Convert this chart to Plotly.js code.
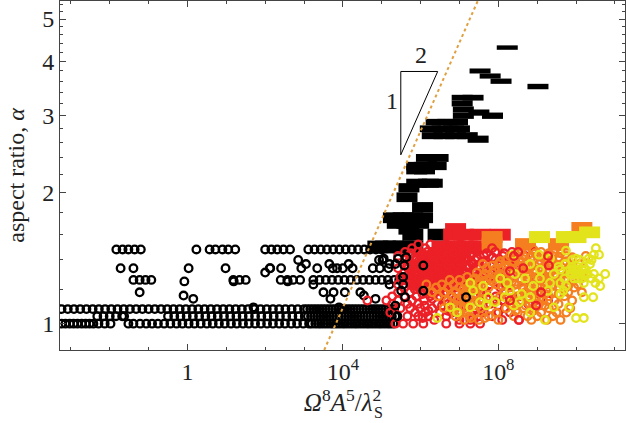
<!DOCTYPE html>
<html><head><meta charset="utf-8">
<script src="https://cdn.plot.ly/plotly-3.0.1.min.js"></script>
<style>html,body{margin:0;padding:0;background:#fff}</style></head>
<body><div id="c" style="width:626px;height:423px"></div>
<script>
// x values are stored as log10(Omega^8 A^5 / lambda_S^2)
const blackCircleAlpha=[1,1.04,1.08,1.48];
const blackCircleLogX=[
[-3.24,-3.14,-3.03,-2.93,-2.83,-2.72,-2.62,-2.52,-2.42,-2.29,-2.13,-1.98,-1.52,-1.39,-1.22,-1.06,-.91,-.76,-.6,-.44,-.28,-.13,.03,.18,.34,.5,.65,.81,.96,1.12,1.27,1.43,1.58,1.74,1.89,2.05,2.2,2.36,2.51,2.67,2.82,2.98,3.13,3.29,3.44,3.6,3.75,3.91,4.06,4.22,4.37,4.53,4.68,4.84,4.99,5.15,5.3],
[-2.32,-2.16,-2,-1.84,-1.68,-.5,-.34,-.18,-.02,.14,.3,.46,.62,.78,.94,1.1,1.26,1.42,1.58,1.74,1.9,2.06,2.22,2.38,2.54,2.7,2.86,3.02,3.18,3.34,3.5,3.66,3.82,3.98,4.14,4.3,4.46,4.62,4.78,4.94,5.1,5.26],
[-3.24,-3.08,-2.92,-2.76,-2.6,-2.44,-2.28,-2.12,-1.96,-1.8,-1.64,-1.48,-1.32,-1.16,-1,-.84,-.68,-.52,-.36,-.2,-.04,.12,.28,.44,.6,.76,.92,1.08,1.24,1.4,1.56,1.72,1.88,2.04,2.2,2.36,2.52,2.68,2.84,3,3.16,3.32,3.48,3.64,3.8,3.96,4.12,4.28,4.44,4.6,4.76,4.92,5.08,5.24],
[-1.83,-1.67,-1.52,-1.36,-1.2,.23,.57,.72,.9,1.05,1.23,2,2.16,2.31,2.47,2.64,3.11,3.27,3.43,3.59,3.75,3.91,4.07,4.23,4.39,4.55,4.7,4.85,5]
];
const blackDenseAlpha=[1,1.04,1.08];
const blackDenseLogX=[
[3.2,3.37,3.52,3.68,3.83,3.99,4.14,4.3,4.45,4.61,4.76,4.92,5.07,5.22],
[3.1,3.26,3.42,3.58,3.74,3.9,4.06,4.22,4.38,4.54,4.7,4.86,5.02,5.18],
[3.08,3.24,3.4,3.56,3.72,3.88,4.04,4.2,4.36,4.52,4.68,4.84,5,5.16,5.32]
];
const blackRow2Alpha=[1.26,1.34];
const blackRow2LogX=[
[-1.39,-1.23,-1.08,-.93,1.18,1.34,1.5,2.4,2.57,2.72,2.9,3.24,3.4,3.56,3.72,3.88,4.04,4.2,4.36,4.52,4.68,4.84,5,5.16,5.32,5.45],
[-1.72,-1.39,.03,.98,2.12,2.13,2.41,2.93,3.34,3.74,3.85,4.0,4.25,4.77,4.95,5.17]
];
const blackScatterAlpha=[1.04,1.09,1.14,1.16,1.18,1.23,1.25,1.31,1.37,1.4,1.41,1.37];
const blackScatterLogX=[
[-1.63,5.35,5.4],[1.7,3.9],[.15,3.68,4.84],[-.1,4.54],[-1.23,3.5,3.76,4.05,4.45],[3.24,5.2],[-.08,1.19,2.58],[2.0],[3.05,3.65],[2.85,4.93,5.02],[5.05],[4.15,5.2]
];
const redAlpha=[1,1.02,1.04,1.06,1.085,1.11,1.13,1.155,1.18,1.21,1.23,1.26,1.28,1.31,1.34,1.37,1.4,1.43,1.46,1.49,1.52];
const redLogX=[
[5.35,5.55,5.81,6.07,6.66,7,7.28,7.53],
[6.35,7,7.28,8.1,8.53],
[5.66,5.94,6.2,6.66,7.48,7.84],
[5.22,5.86,6.12,6.5,6.81,7.17,7.63,8,8.3],
[5.48,5.73,5.99,6.3,6.89,7.4,8.17],
[5.27,5.66,5.94,6.43,6.71,7.28,7.79,8.35,8.77],
[4.63,5.12,5.42,5.78,6.09,6.63,7.02,7.58,8.1,8.95,9.28],
[5.27,5.58,5.89,6.25,6.5,6.81,7.38,7.94,8.56],
[5.42,5.73,6.12,6.38,6.68,7.15,7.69,8.3,9.07],
[5.58,5.94,6.25,6.56,6.89,7.48,8.05,8.64],
[5.42,5.78,6.09,6.4,6.71,7.22,7.79,8.43],
[5.63,5.89,6.14,6.4,6.66,6.92,7.28,7.64,8.1,8.77],
[5.48,5.78,6.04,6.3,6.56,6.81,7.07,7.48,7.89,8.33,9.07],
[5.58,5.84,6.09,6.35,6.61,6.86,7.12,7.38,7.79,8.2],
[5.42,5.68,5.94,6.2,6.45,6.71,6.97,7.22,7.53,7.97,8.56],
[5.78,6.04,6.3,6.56,6.81,7.07,7.33,7.69,8.25,8.82],
[5.6,5.86,6.12,6.38,6.63,6.89,7.15,7.4,7.92,8.43,9.2],
[5.42,5.73,5.99,6.25,6.5,6.76,7.02,7.28,7.63,8.12,8.69],
[5.6,5.91,6.17,6.43,6.68,6.94,7.2,7.45,7.92,8.35,8.95],
[5.78,6.12,6.43,6.76,7.09,7.43,7.84],
[5.94,6.25,6.66,7.02]
];
const redMoreAlpha=[1.03,1.07,1.1,1.14,1.17,1.2,1.22,1.25,1.27,1.3,1.33,1.36,1.39,1.42,1.45];
const redMoreLogX=[
[6.05,7.35],
[6.2,6.7,7.55],
[6.1,6.55,7.15,8],
[6.3,6.9,7.7],
[6.05,6.3,6.6,6.95,7.55],
[5.85,6.15,6.45,6.75,7.05,7.35],
[5.9,6.2,6.5,6.8,7.1,7.4,8.2],
[5.75,6,6.3,6.55,6.8,7.05,7.4,7.95],
[5.7,5.95,6.2,6.45,6.7,6.95,7.2,7.55],
[5.7,5.95,6.2,6.45,6.7,6.95,7.25,7.6,8],
[5.8,6.05,6.3,6.55,6.85,7.1,7.35,7.7],
[5.65,5.9,6.15,6.4,6.7,6.95,7.2,7.5,8],
[5.7,5.95,6.25,6.5,6.75,7,7.3,7.6,8.3],
[5.85,6.1,6.35,6.6,6.9,7.15,7.45,7.85,8.4],
[5.75,6.05,6.3,6.55,6.85,7.1,7.35,7.7,8.15]
];
const orangeAlpha=[1.02,1.04,1.06,1.085,1.11,1.13,1.155,1.18,1.21,1.23,1.26,1.28,1.31,1.34,1.37,1.4,1.43,1.46];
const orangeLogX=[
[7.12,7.5,8,8.85,9.25,9.6],
[6.9,7.25,7.75,8.4,8.75,9,9.4],
[7,7.4,7.95,8.5,9.1,9.5,9.75],
[6.6,7.1,7.55,8.2,8.65,8.9,9.3,9.85],
[6.85,7.2,7.3,7.7,8.3,8.8,9.05,9.55],
[6.7,6.95,7.15,7.35,7.9,8.4,8.6,9.15,9.45,9.9],
[6.45,6.8,7.05,7.45,8.05,8.5,8.95,9.3,9.7],
[6.3,6.6,6.9,7.2,7.6,8.15,8.7,9,9.4,9.8,10.15],
[6.4,6.7,7,7.35,7.75,8.3,8.8,9.1,9.55,9.95],
[6.15,6.55,6.85,7.15,7.5,7.95,8.45,8.9,9.25,9.65,10.05],
[6.75,7,7.35,7.7,8.2,8.6,9,9.35,9.75],
[7.2,7.6,8,8.4,8.75,9.15,9.5,9.9,10.2],
[7.45,7.85,8.25,8.6,8.95,9.3,9.65,10],
[7.7,8.1,8.45,8.8,9.1,9.45,9.8],
[7.6,8,8.35,8.7,9.05,9.35,9.7,10.1],
[8.2,8.55,8.9,9.25,9.55,9.9],
[8.3,8.65,9,9.4,9.75,10.25],
[8.7,9.1,9.45]
];
const orangeMoreAlpha=[1.03,1.07,1.1,1.14,1.17,1.2,1.22,1.25,1.27,1.3,1.33,1.36,1.39,1.42,1.45,1.48];
const orangeMoreLogX=[
[7.3,7.65],
[6.85,7.2,8.45,8.9],
[6.95,7.45,8.7,9.2],
[7.25,7.6,8.75,9.05],
[7.1,7.4,8.6,8.85,9.2,9.55],
[7.1,7.5,8.45,8.65,8.95,9.25,9.7],
[7.25,7.6,8.1,8.6,9,9.4,9.8],
[7.5,7.85,8.35,8.75,9.15,9.5,9.9],
[7.4,7.8,8.15,8.55,8.9,9.25,9.6,10.05],
[7.65,8.05,8.4,8.8,9.15,9.45,9.8,10.15],
[7.9,8.3,8.65,8.95,9.25,9.6,9.95],
[7.85,8.2,8.55,8.85,9.2,9.5,9.85],
[8.05,8.4,8.75,9.1,9.4,9.75],
[8.45,8.85,9.2,9.55,9.9],
[8.55,8.95,9.3,9.6],
[8.6,8.9,9.6]
];
const yellowAlpha=[1.02,1.03,1.06,1.09,1.12,1.15,1.19,1.22,1.24,1.27,1.3,1.33,1.37,1.41,1.44,1.47,1.49];
const yellowLogX=[
[9.2],[6.43,10,10.2],[6.94,8.82],[6.76,7.28,9.43,9.82],[7.53,7.92,8.53],[7.74,8.17,8.82,10.2,10.44],
[7.35,8.3,9.28,9.67],[7.61,8.9,9.74,10.62],[7.28,8.23,9.33],[8.05,8.69,9.07,10.05,10.59],
[8.43,9.43,9.85,10.05,10.26,10.46,10.75],[9.07,9.59,9.95,10.15],[8.82,9.72,10.36],[9.33,10,10.33],
[8.38,9.05,10.46,10.59],[9.74],[10.51]
];
const yellowMoreAlpha=[1.1,1.17,1.24,1.27,1.3,1.33,1.35,1.4];
const yellowMoreLogX=[
[7.7,8.4],[8.6,9.6],[9.6,10.2,10.5],
[9.7,9.95,10.15,10.4],[9.9,10,10.1,10.2,10.3],[9.85,10,10.05,10.25],[9.55,9.9,10.2],[9.9,10.1,10.4]
];
const redTopAlpha=[1.46,1.43,1.36,1.32,1.34,1.18,1.13,1.02,1.1];
const redTopLogX=[[8.51],[8.4,9.28],[9.3],[8.3],[8.64],[9.1],[8.3],[8.53],[8.97]];
const blackTopAlpha=[1.41,1.42,1.37,1.36,1.23,1.19,1.28,1.15,1.1,1.04,1.36,1.19,1.15];
const blackTopLogX=[[5.42],[5.63],[5.35],[5.58],[5.55],[5.5],[5.55],[5.6],[5.35],[5.4],[6.07],[6.07],[7.17]];
const blackRectAlpha=[4.3,3.5,3.8,3.7,3.6,3.3,3.2,3.1,3.05,3,2.9,2.8,2.7,2.65,2.4,2.3,2.25,2.1,2.05,1.95,1.85,1.75,1.7,1.65,1.6,1.5];
const blackRectLogX=[[8.23],[9.02],[7.53],[7.79],[8.07],[7.07,7.35],[7.07],[7.1],[7.5],[7.1,7.85],[6.4,6.7,6.95],[6.25,6.55,6.85,7],[6.3,6.6,6.9,7.2],[7.48],[6.15,6.45],[5.9,6.1,6.4],[5.9,6.1],[5.9,6.2,6.3],[5.7],[5.65],[6.05],[5.3,5.55,5.8,6.05],[5.4,5.65,5.95],[5.7],[5.8,6.45],[4.9,5.1,5.3,5.55,5.8]];
const redRectAlpha=[1.65,1.6,1.5,1.42,1.35,1.25];
const redRectLogX=[[6.9],[6.85,7.1,7.53,8.05],[6.55,6.9,7.2,7.5],[6.3,6.6,6.9],[5.95,6.2,6.55,6.85],[5.95,6.2,6.5]];
const orangeRectAlpha=[1.66,1.58,1.52];
const orangeRectLogX=[[10.15],[7.84],[7.84,8.7,9.55]];
const yellowRectAlpha=[1.62,1.58];
const yellowRectLogX=[[10.35],[9.06,9.75,10]];
const guideLogX=[3.52,7.47], guideAlpha=[0.87,5.5];
const triangleLogX=[5.49,6.44,5.49,5.49], triangleAlpha=[3.79,3.79,2.44,3.79];
const xTickExp=[0,4,8], xTickText=['1','10<sup>4</sup>','10<sup>8</sup>'];
const xMinorExp=[-3,-2,-1,1,2,3,5,6,7,9,10,11];
const yTicks=[1,2,3,4,5];
const yMinor=[1.2,1.4,1.6,1.8,2.2,2.4,2.6,2.8,3.2,3.4,3.6,3.8,4.2,4.4,4.6,4.8,5.2,5.4];

const P=e=>Math.pow(10,e);
function flat(as,xs){const x=[],y=[];xs.forEach((r,i)=>r.forEach(v=>{x.push(P(v));y.push(as[i]);}));return{x,y};}
function circles(as,xs,c){const d=flat(as,xs);return{type:'scatter',mode:'markers',x:d.x,y:d.y,hoverinfo:'skip',
 marker:{symbol:'circle-open',size:7.6,color:c,line:{color:c,width:2.3}}};}
function rects(as,xs,c){const d=flat(as,xs);return{type:'scatter',mode:'markers',x:d.x,y:d.y,hoverinfo:'skip',
 marker:{symbol:'line-ew',size:15,color:c,line:{color:c,width:d.y.map(a=>19/a)}}};}
const RED='#ec2027',ORG='#f57f20',YEL='#e3e31b';
const traces=[
 rects(blackRectAlpha,blackRectLogX,'#000'),
 circles(blackCircleAlpha,blackCircleLogX,'#000'),
 circles(blackDenseAlpha,blackDenseLogX,'#000'),
 circles(blackRow2Alpha,blackRow2LogX,'#000'),
 circles(blackScatterAlpha,blackScatterLogX,'#000'),
 rects(redRectAlpha,redRectLogX,RED),
 rects(orangeRectAlpha,orangeRectLogX,ORG),
 rects(yellowRectAlpha,yellowRectLogX,YEL),
 circles(redAlpha,redLogX,RED),
 circles(redMoreAlpha,redMoreLogX,RED),
 circles(orangeAlpha,orangeLogX,ORG),
 circles(orangeMoreAlpha,orangeMoreLogX,ORG),
 circles(yellowAlpha,yellowLogX,YEL),
 circles(yellowMoreAlpha,yellowMoreLogX,YEL),
 circles(redTopAlpha,redTopLogX,RED),
 circles(blackTopAlpha,blackTopLogX,'#000'),
 {type:'scatter',mode:'lines',x:guideLogX.map(P),y:guideAlpha,hoverinfo:'skip',line:{color:'#e0a040',width:2,dash:'dot'}},
 {type:'scatter',mode:'lines',x:triangleLogX.map(P),y:triangleAlpha,hoverinfo:'skip',line:{color:'#000',width:1}}
];
const F='"Liberation Serif",serif';
const layout={width:626,height:423,showlegend:false,paper_bgcolor:'#fff',plot_bgcolor:'#fff',
 margin:{l:59.5,r:1,t:1,b:73},font:{family:F,color:'#222',size:20},
 xaxis:{type:'log',range:[-3.28,11.26],showgrid:false,zeroline:false,showline:true,linecolor:'#444',linewidth:1,mirror:'allticks',
  ticks:'inside',ticklen:6,tickcolor:'#444',tickvals:xTickExp.map(P),ticktext:xTickText,tickfont:{family:F,size:24,color:'#222'},
  minor:{tickvals:xMinorExp.map(P),ticks:'inside',ticklen:3,tickcolor:'#444',showgrid:false},
  title:{text:'<i>Ω</i><sup>8</sup><i>A</i><sup>5</sup>/<i>λ</i><sup>2</sup>',font:{family:F,size:25,color:'#222'},standoff:2}},
 yaxis:{type:'log',range:[Math.log10(0.87),Math.log10(5.5)],showgrid:false,zeroline:false,showline:true,linecolor:'#444',linewidth:1,mirror:'allticks',
  ticks:'inside',ticklen:6,tickcolor:'#444',tickvals:yTicks,ticktext:yTicks.map(String),tickfont:{family:F,size:24,color:'#222'},
  minor:{tickvals:yMinor,ticks:'inside',ticklen:3,tickcolor:'#444',showgrid:false},
  title:{text:'aspect ratio, <i>α</i>',font:{family:F,size:24,color:'#222'},standoff:10}},
 annotations:[
  {xref:'paper',yref:'paper',x:(392-59.5)/565.5,y:(350-101)/349,text:'1',xanchor:'center',yanchor:'middle',showarrow:false,font:{family:F,size:24,color:'#222'}},
  {xref:'paper',yref:'paper',x:(421-59.5)/565.5,y:(350-55)/349,text:'2',xanchor:'center',yanchor:'middle',showarrow:false,font:{family:F,size:24,color:'#222'}},
  {xref:'paper',yref:'paper',x:(378-59.5)/565.5,y:(350-412)/349,text:'S',xanchor:'center',yanchor:'middle',showarrow:false,font:{family:F,size:16,color:'#222'}}
 ]};
Plotly.newPlot('c',traces,layout,{displayModeBar:false,staticPlot:true});
</script></body></html>
